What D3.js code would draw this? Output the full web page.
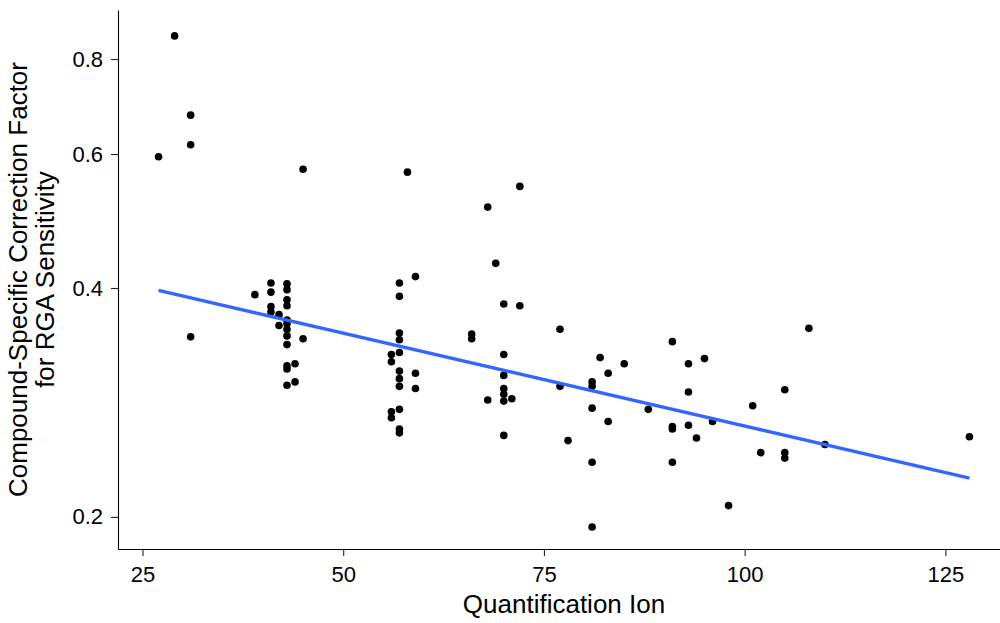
<!DOCTYPE html>
<html>
<head>
<meta charset="utf-8">
<script src="https://cdn.jsdelivr.net/npm/d3@7"></script>
<style>
  body { margin: 0; background: #fff; }
  svg text { font-family: "Liberation Sans", Arial, sans-serif; fill: #000; }
</style>
</head>
<body>
<svg width="1000" height="623"></svg>
<script>
// quantification ion (x) and correction factor (y)
var ionX = [29, 31, 31, 27, 45,
  31, 39, 41, 41, 41, 41, 42, 42,
  43, 43, 43, 43, 43, 43, 43, 43, 43, 43, 43, 43, 44, 44, 45,
  58, 72, 68, 69, 59,
  57, 57, 57, 57, 57, 57, 57, 57, 57, 57, 57,
  56, 56, 56, 56, 59, 59, 66, 66,
  70, 70, 70, 70, 70, 70, 70, 72, 68, 71,
  77, 77, 78, 81, 81, 81, 81, 81, 82, 83, 83, 85, 88,
  91, 91, 91, 91, 93, 93, 93, 94, 95, 96, 98,
  108, 105, 101, 102, 105, 105, 110, 128];
var factorY = [0.858, 0.675, 0.617, 0.595, 0.573,
  0.345, 0.392, 0.406, 0.395, 0.378, 0.372, 0.369, 0.357,
  0.405, 0.398, 0.386, 0.379, 0.363, 0.359, 0.353, 0.346, 0.337, 0.316, 0.313, 0.298, 0.318, 0.301, 0.343,
  0.568, 0.544, 0.511, 0.431, 0.414,
  0.406, 0.390, 0.349, 0.342, 0.329, 0.311, 0.304, 0.297, 0.277, 0.261, 0.258,
  0.327, 0.320, 0.275, 0.270, 0.309, 0.295, 0.348, 0.343,
  0.381, 0.327, 0.307, 0.295, 0.290, 0.284, 0.256, 0.379, 0.285, 0.286,
  0.353, 0.297, 0.252, 0.301, 0.297, 0.278, 0.236, 0.194, 0.324, 0.309, 0.267, 0.318, 0.277,
  0.340, 0.263, 0.261, 0.236, 0.318, 0.292, 0.264, 0.254, 0.323, 0.267, 0.207,
  0.354, 0.294, 0.280, 0.243, 0.243, 0.239, 0.249, 0.255];

// linear fit (log scale), read at its two ends
var fitX = [27, 128];
var fitY = [0.397, 0.225];

var xTicks = [25, 50, 75, 100, 125];
var yTicks = [0.2, 0.4, 0.6, 0.8];

var svg = d3.select("svg");
var panel = { left: 118, right: 1010, top: 10, bottom: 549 };

var x = d3.scaleLinear().domain([21.95, 133.05]).range([panel.left, panel.right]);
var y = d3.scaleLog().domain([0.1815, 0.928]).range([panel.bottom, panel.top]);

var points = ionX.map(function (d, i) { return { x: d, y: factorY[i] }; });

svg.append("g")
  .selectAll("circle")
  .data(points)
  .enter().append("circle")
  .attr("cx", function (d) { return x(d.x); })
  .attr("cy", function (d) { return y(d.y); })
  .attr("r", 3.8)
  .attr("fill", "#000");

var fit = fitX.map(function (d, i) { return [d, fitY[i]]; });
svg.append("path")
  .datum(fit)
  .attr("fill", "none")
  .attr("stroke", "#3366FF")
  .attr("stroke-width", 3.3)
  .attr("d", d3.line()
    .x(function (d) { return x(d[0]); })
    .y(function (d) { return y(d[1]); }));

// axes
var xAxis = svg.append("g")
  .attr("transform", "translate(0," + panel.bottom + ")")
  .call(d3.axisBottom(x).tickValues(xTicks).tickSize(7).tickPadding(10).tickSizeOuter(0));
var yAxis = svg.append("g")
  .attr("transform", "translate(" + panel.left + ",0)")
  .call(d3.axisLeft(y).tickValues(yTicks).tickFormat(d3.format(".1f")).tickSize(7).tickPadding(8).tickSizeOuter(0));

[xAxis, yAxis].forEach(function (a) {
  a.select(".domain").attr("stroke", "#000").attr("stroke-width", 1.1);
  a.selectAll(".tick line").attr("stroke", "#222").attr("stroke-width", 1.1);
  a.selectAll("text").attr("font-size", 22).attr("fill", "#000");
});

svg.append("text")
  .attr("x", (panel.left + panel.right) / 2)
  .attr("y", 613)
  .attr("text-anchor", "middle")
  .attr("font-size", 26)
  .text("Quantification Ion");

var yTitle = svg.append("text")
  .attr("transform", "translate(0," + ((panel.top + panel.bottom) / 2) + ") rotate(-90)")
  .attr("text-anchor", "middle")
  .attr("font-size", 26);
yTitle.append("tspan").attr("x", 0).attr("y", 27).text("Compound-Specific Correction Factor");
yTitle.append("tspan").attr("x", 0).attr("y", 53.5).text("for RGA Sensitivity");
</script>
</body>
</html>
